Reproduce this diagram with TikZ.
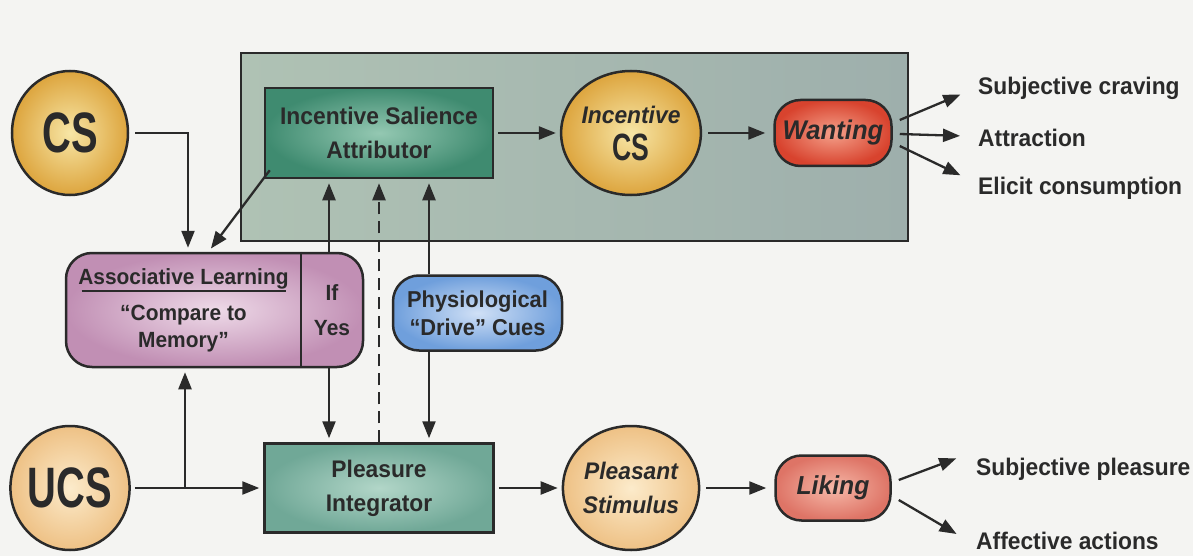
\documentclass[tikz,border=0pt]{standalone}
\usepackage{fontspec}
\setmainfont[FakeStretch=0.95]{Liberation Sans}
\newfontfamily\condfont[FakeStretch=0.7]{Liberation Sans}
\usetikzlibrary{arrows.meta,calc,positioning,shapes.geometric}

\definecolor{ink}{HTML}{2A2A2A}
\definecolor{paper}{HTML}{F4F4F2}
\definecolor{panelL}{HTML}{AFC2B4}
\definecolor{panelR}{HTML}{9EAFAC}
\definecolor{goldIn}{HTML}{F7E6A6}
\definecolor{goldOut}{HTML}{DDA53E}
\definecolor{peachIn}{HTML}{FCEBCB}
\definecolor{peachOut}{HTML}{EEC185}
\definecolor{tealIn}{HTML}{94C8B2}
\definecolor{tealOut}{HTML}{3F8B70}
\definecolor{mintIn}{HTML}{B2D6C8}
\definecolor{mintOut}{HTML}{70A897}
\definecolor{redIn}{HTML}{F4A08A}
\definecolor{redOut}{HTML}{D8432E}
\definecolor{pinkIn}{HTML}{F6B8A8}
\definecolor{pinkOut}{HTML}{DE7466}
\definecolor{mauveIn}{HTML}{EEDAE8}
\definecolor{mauveOut}{HTML}{C18FB4}
\definecolor{blueIn}{HTML}{D0E0F6}
\definecolor{blueOut}{HTML}{6F9FDC}

\newcommand\capsfont[1]{\condfont\bfseries\fontsize{#1}{#1}\selectfont}

\tikzset{
  txt/.style={text=ink, align=center, font=\bfseries\fontsize{24}{34}\selectfont},
  smalltxt/.style={txt, font=\bfseries\fontsize{22}{27}\selectfont},
  stimball/.style={ellipse, draw=ink, line width=2.5pt, minimum width=116pt, minimum height=124pt, inner sep=0pt, txt},
  goldball/.style={stimball, inner color=goldIn, outer color=goldOut},
  peachball/.style={stimball, inner color=peachIn, outer color=peachOut},
  unitbox/.style={rectangle, draw=ink, line width=2.5pt, inner sep=0pt, txt},
  pillbox/.style={unitbox, rounded corners=26pt},
  panel/.style={unitbox, left color=panelL, right color=panelR, minimum width=667pt, minimum height=188pt},
  outcome/.style={txt, anchor=west, inner sep=0pt},
  arr/.style={draw=ink, line width=2.3pt, -{Triangle[length=17pt,width=13pt]}, shorten >=4pt},
}

\begin{document}
\begin{tikzpicture}[x=1pt, y=-1pt, on grid, node distance=252pt]
  \useasboundingbox (0,0) rectangle (1193,556);
  \fill[paper] (0,0) rectangle (1193,556);
  \node[panel] (panel) at (574.5,147) {};

  % wanting row
  \node[goldball] (cs) at (70,133) {\capsfont{57}CS};
  \node[unitbox, inner color=tealIn, outer color=tealOut, minimum width=228pt, minimum height=90pt] (isa) [right=309pt of cs] {Incentive Salience\\Attributor};
  \node[goldball] (ics) [right=of isa] {\itshape Incentive\\[3pt]\capsfont{38}CS};
  \node[pillbox, inner color=redIn, outer color=redOut, minimum width=117pt, minimum height=66pt, font=\bfseries\itshape\fontsize{27}{30}\selectfont] (want) [right=202pt of ics] {Wanting};

  % liking row
  \node[peachball] (ucs) [below=355pt of cs] {\capsfont{57}UCS};
  \node[unitbox, inner color=mintIn, outer color=mintOut, minimum width=229pt, minimum height=89pt] (pleas) [below=355pt of isa] {Pleasure\\Integrator};
  \node[peachball] (stim) [below=355pt of ics] {\itshape Pleasant\\\itshape Stimulus};
  \node[pillbox, inner color=pinkIn, outer color=pinkOut, minimum width=115pt, minimum height=65pt, font=\bfseries\itshape\fontsize{26}{30}\selectfont] (liking) [below=355pt of want] {Liking};

  % middle boxes
  \node[pillbox, inner color=mauveIn, outer color=mauveOut, minimum width=297pt, minimum height=114pt] (assoc) [below right=177pt and 144.5pt of cs] {};
  \node[smalltxt] (learn) [left=31pt of assoc] {Associative Learning\\[-19pt]\rule{204pt}{2.5pt}\\[1pt]“Compare to\\Memory”};
  \node[smalltxt] (ifyes) [right=117.5pt of assoc] {If\\[8pt]Yes};
  \coordinate (split) at (301,310);
  \draw[ink, line width=2.5pt] (split |- assoc.north) -- (split |- assoc.south);
  \node[pillbox, inner color=blueIn, outer color=blueOut, minimum width=169pt, minimum height=75pt, font=\bfseries\fontsize{23}{28}\selectfont] (phys) [below right=180pt and 98.5pt of isa] {Physiological\\“Drive” Cues};

  % outcomes
  \node[outcome] (crave) at (978,88) {Subjective craving};
  \node[outcome] (attract) at (978,138) {Attraction};
  \node[outcome] (elicit) at (978,188) {Elicit consumption};
  \node[outcome] (joy) at (976,469) {Subjective pleasure};
  \node[outcome] (affect) at (976,541) {Affective actions};

  % connectors
  \coordinate (csbend) at (188,133);
  \coordinate (ucsfork) at (185,488);
  \coordinate (ifx) at ([xshift=-50pt]isa.south);
  \coordinate (physx) at ([xshift=50pt]isa.south);
  \draw[arr, shorten <=6pt] (cs.east) -- (csbend) -- (csbend |- assoc.north);
  \draw[arr] ([shift={(6,-9)}]isa.south west) -- ([xshift=-6pt]assoc.north);
  \draw[arr, shorten <=4pt] (isa) -- (ics);
  \draw[arr, shorten <=6pt, shorten >=8pt] (ics) -- (want);
  \draw[arr] ($(want.east)+(7,-13)$) -- ([shift={(-14,5)}]crave.west);
  \draw[arr] ($(want.east)+(7,1)$) -- ([shift={(-14,-2)}]attract.west);
  \draw[arr] ($(want.east)+(7,13)$) -- ([shift={(-14,-11)}]elicit.west);
  \draw[arr] (assoc.north -| ifx) -- (ifx);
  \draw[arr, dash pattern=on 12pt off 7pt] (pleas.north) -- (isa.south);
  \draw[arr] (phys.north -| physx) -- (physx);
  \draw[arr] (assoc.south -| ifx) -- (pleas.north -| ifx);
  \draw[arr] (phys.south -| physx) -- (pleas.north -| physx);
  \draw[arr, shorten <=4pt] (ucs) -- (pleas);
  \draw[arr] (ucsfork) -- (ucsfork |- assoc.south);
  \draw[arr, shorten <=4pt] (pleas) -- (stim);
  \draw[arr, shorten <=6pt, shorten >=8pt] (stim) -- (liking);
  \draw[arr] ($(liking.east)+(7,-8)$) -- ([shift={(-16,-12)}]joy.west);
  \draw[arr] ($(liking.east)+(7,12)$) -- ([shift={(-16,-5)}]affect.west);
\end{tikzpicture}
\end{document}
